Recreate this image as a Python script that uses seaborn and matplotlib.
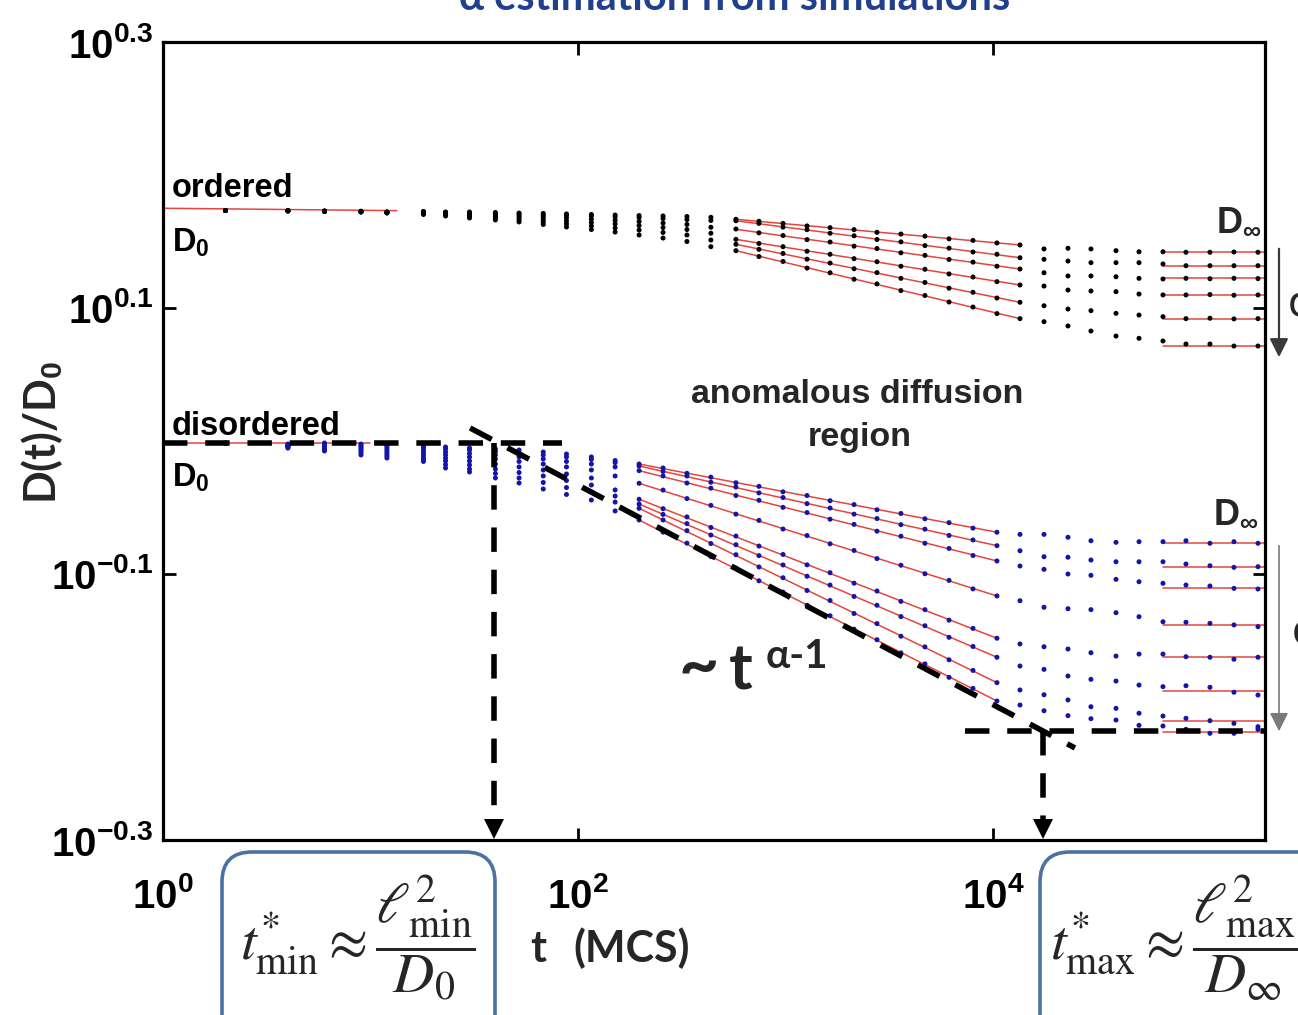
import matplotlib
matplotlib.use("Agg")
import matplotlib.pyplot as plt
import numpy as np
import pandas as pd
import seaborn as sns
from matplotlib.patches import FancyBboxPatch, FancyArrowPatch
from matplotlib.ticker import NullLocator

# ---------------------------------------------------------------------------
# data: time grid (MCS) and log10(D(t)/D0) per curve
# ---------------------------------------------------------------------------
t_mcs = [2, 4, 6, 9, 12, 18, 23, 30, 40, 52, 68, 88, 116, 151, 197, 257, 335,
         437, 577, 745, 973, 1270, 1640, 2140, 2760, 3600, 4700, 6140, 8010,
         10450, 13490, 17620, 22980, 29660, 39170, 50560, 65960, 85140,
         111100, 145000, 189300]

ordered_1 = [0.1733, 0.1732, 0.1729, 0.1727, 0.1722,
             0.1726, 0.1722, 0.1722, 0.1718, 0.1714, 0.1711, 0.1707, 0.1703,
             0.1699, 0.1695, 0.1692, 0.1688, 0.1682,
             0.1667, 0.1652, 0.1636, 0.1617, 0.1604, 0.1589, 0.1569, 0.1556,
             0.1540, 0.1520, 0.1508, 0.1489, 0.1474,
             0.1444, 0.1449, 0.1444, 0.1431, 0.1423,
             0.1423, 0.1419, 0.1419, 0.1421, 0.1419]
ordered_2 = [0.1733, 0.1732, 0.1729, 0.1727, 0.1722,
             0.1722, 0.1718, 0.1714, 0.1711, 0.1707, 0.1699, 0.1695, 0.1692,
             0.1684, 0.1680, 0.1673, 0.1665, 0.1658,
             0.1656, 0.1636, 0.1608, 0.1589, 0.1562, 0.1543, 0.1515, 0.1497,
             0.1469, 0.1450, 0.1421, 0.1404, 0.1378,
             0.1366, 0.1353, 0.1341, 0.1341, 0.1341,
             0.1331, 0.1318, 0.1318, 0.1318, 0.1318]
ordered_3 = [0.1733, 0.1731, 0.1728, 0.1726, 0.1720,
             0.1718, 0.1714, 0.1707, 0.1699, 0.1692, 0.1684, 0.1677, 0.1669,
             0.1658, 0.1650, 0.1639, 0.1628, 0.1607,
             0.1594, 0.1565, 0.1545, 0.1514, 0.1496, 0.1465, 0.1447, 0.1415,
             0.1396, 0.1365, 0.1345, 0.1314, 0.1293,
             0.1265, 0.1241, 0.1241, 0.1235, 0.1223,
             0.1218, 0.1223, 0.1220, 0.1223, 0.1221]
ordered_4 = [0.1733, 0.1731, 0.1727, 0.1725, 0.1718,
             0.1714, 0.1707, 0.1699, 0.1688, 0.1677, 0.1665, 0.1654, 0.1643,
             0.1632, 0.1620, 0.1605, 0.1590, 0.1562,
             0.1516, 0.1485, 0.1461, 0.1427, 0.1404, 0.1371, 0.1348, 0.1314,
             0.1291, 0.1256, 0.1233, 0.1198, 0.1173,
             0.1165, 0.1135, 0.1128, 0.1123, 0.1105,
             0.1098, 0.1098, 0.1101, 0.1096, 0.1098]
ordered_5 = [0.1733, 0.1730, 0.1726, 0.1723, 0.1716,
             0.1711, 0.1699, 0.1688, 0.1677, 0.1662, 0.1647, 0.1632, 0.1617,
             0.1602, 0.1586, 0.1568, 0.1549, 0.1511,
             0.1479, 0.1441, 0.1410, 0.1367, 0.1338, 0.1295, 0.1266, 0.1223,
             0.1192, 0.1149, 0.1118, 0.1075, 0.1043,
             0.1017, 0.0992, 0.0980, 0.0960, 0.0947,
             0.0935, 0.0920, 0.0923, 0.0918, 0.0920]
ordered_6 = [0.1733, 0.1729, 0.1725, 0.1721, 0.1714,
             0.1703, 0.1692, 0.1677, 0.1662, 0.1647, 0.1628, 0.1609, 0.1590,
             0.1571, 0.1549, 0.1526, 0.1500, 0.1461,
             0.1431, 0.1387, 0.1350, 0.1300, 0.1265, 0.1216, 0.1181, 0.1131,
             0.1094, 0.1045, 0.1007, 0.0958, 0.0920,
             0.0897, 0.0865, 0.0827, 0.0789, 0.0772,
             0.0752, 0.0729, 0.0729, 0.0714, 0.0714]

disordered_1 = [-0.0017, -0.0023, -0.0015, -0.0023, -0.0030, -0.0038, -0.0045,
                -0.0053, -0.0060, -0.0068, -0.0083, -0.0098, -0.0120, -0.0147,
                -0.0173, -0.0203, -0.0243, -0.0272, -0.0314, -0.0341, -0.0382,
                -0.0410, -0.0449, -0.0478, -0.0517, -0.0545, -0.0585, -0.0614,
                -0.0655, -0.0686,
                -0.0702, -0.0702, -0.0724, -0.0750, -0.0762, -0.0757, -0.0757,
                -0.0750, -0.0769, -0.0757, -0.0769]
disordered_2 = [-0.0017, -0.0026, -0.0023, -0.0030, -0.0038, -0.0049, -0.0060,
                -0.0068, -0.0079, -0.0090, -0.0105, -0.0120, -0.0139, -0.0162,
                -0.0188, -0.0229, -0.0263, -0.0310, -0.0346, -0.0390, -0.0425,
                -0.0471, -0.0504, -0.0550, -0.0583, -0.0629, -0.0663, -0.0710,
                -0.0744, -0.0787,
                -0.0825, -0.0870, -0.0874, -0.0895, -0.0908, -0.0908, -0.0908,
                -0.0925, -0.0938, -0.0950, -0.0945]
disordered_3 = [-0.0017, -0.0030, -0.0030, -0.0041, -0.0053, -0.0068, -0.0083,
                -0.0094, -0.0105, -0.0120, -0.0135, -0.0154, -0.0173, -0.0195,
                -0.0223, -0.0263, -0.0316, -0.0355, -0.0410, -0.0446, -0.0499,
                -0.0538, -0.0588, -0.0627, -0.0678, -0.0716, -0.0769, -0.0808,
                -0.0861, -0.0902,
                -0.0940, -0.0965, -0.1000, -0.1010, -0.1040, -0.1058, -0.1070,
                -0.1083, -0.1090, -0.1108, -0.1113]
disordered_4 = [-0.0017, -0.0034, -0.0038, -0.0053, -0.0068, -0.0086, -0.0105,
                -0.0120, -0.0135, -0.0154, -0.0173, -0.0195, -0.0218, -0.0263,
                -0.0318, -0.0369, -0.0433, -0.0484, -0.0550, -0.0597, -0.0662,
                -0.0711, -0.0773, -0.0823, -0.0884, -0.0934, -0.0998, -0.1048,
                -0.1112, -0.1165,
                -0.1201, -0.1250, -0.1261, -0.1268, -0.1291, -0.1321, -0.1359,
                -0.1363, -0.1371, -0.1383, -0.1396]
disordered_5 = [-0.0017, -0.0038, -0.0045, -0.0064, -0.0083, -0.0105, -0.0128,
                -0.0150, -0.0173, -0.0195, -0.0218, -0.0248, -0.0278, -0.0368,
                -0.0438, -0.0509, -0.0571, -0.0650, -0.0715, -0.0790, -0.0853,
                -0.0931, -0.0990, -0.1069, -0.1128, -0.1206, -0.1268, -0.1347,
                -0.1409, -0.1483,
                -0.1526, -0.1547, -0.1564, -0.1592, -0.1617, -0.1602, -0.1602,
                -0.1622, -0.1626, -0.1641, -0.1626]
disordered_6 = [-0.0017, -0.0041, -0.0053, -0.0075, -0.0098, -0.0124, -0.0150,
                -0.0180, -0.0211, -0.0237, -0.0263, -0.0297, -0.0331, -0.0414,
                -0.0474, -0.0552, -0.0621, -0.0707, -0.0780, -0.0862, -0.0932,
                -0.1017, -0.1083, -0.1169, -0.1235, -0.1320, -0.1389, -0.1476,
                -0.1545, -0.1626,
                -0.1692, -0.1717, -0.1767, -0.1792, -0.1805, -0.1835, -0.1847,
                -0.1840, -0.1852, -0.1889, -0.1910]
disordered_7 = [-0.0017, -0.0045, -0.0064, -0.0090, -0.0113, -0.0139, -0.0177,
                -0.0211, -0.0244, -0.0278, -0.0312, -0.0350, -0.0383, -0.0459,
                -0.0506, -0.0594, -0.0674, -0.0771, -0.0855, -0.0947, -0.1028,
                -0.1124, -0.1199, -0.1297, -0.1373, -0.1468, -0.1548, -0.1645,
                -0.1725, -0.1817,
                -0.1872, -0.1908, -0.1947, -0.1998, -0.2010, -0.2047, -0.2068,
                -0.2085, -0.2103, -0.2123, -0.2148]
disordered_8 = [-0.0017, -0.0053, -0.0075, -0.0105, -0.0128, -0.0154, -0.0203,
                -0.0233, -0.0278, -0.0316, -0.0361, -0.0402, -0.0444, -0.0526,
                -0.0594, -0.0685, -0.0768, -0.0869, -0.0956, -0.1051, -0.1136,
                -0.1235, -0.1314, -0.1415, -0.1494, -0.1593, -0.1676, -0.1777,
                -0.1860, -0.1955,
                -0.1985, -0.2028, -0.2065, -0.2088, -0.2098, -0.2138, -0.2143,
                -0.2168, -0.2198, -0.2198, -0.2168]

# power-law fits (red) and plateaus, log10 values at the two ends
ordered_fit_t = [577, 13490]
ordered_fit_start = [0.1667, 0.1656, 0.1592, 0.1516, 0.1479, 0.1431]
ordered_fit_end = [0.1474, 0.1378, 0.1293, 0.1173, 0.1043, 0.0920]
ordered_dinf = [0.1419, 0.1318, 0.1223, 0.1098, 0.0920, 0.0714]
ordered_d0_t = [1, 13.4]
ordered_d0 = [0.1750, 0.1732]

disordered_fit_t = [197, 10450]
disordered_fit_start = [-0.0173, -0.0188, -0.0223, -0.0318, -0.0438, -0.0474,
                        -0.0506, -0.0594]
disordered_fit_end = [-0.0686, -0.0787, -0.0902, -0.1165, -0.1483, -0.1626,
                      -0.1817, -0.1955]
disordered_dinf = [-0.0769, -0.0945, -0.1108, -0.1383, -0.1626, -0.1877,
                   -0.2103, -0.2190]
disordered_d0_t = [1, 10]
disordered_d0 = [-0.0015, -0.0015]

plateau_t = [65960, 2.05e5]

# dashed guides
guide_d0_t = [1, 84]
guide_d0_level = -0.0015
guide_slope_t = [30.2, 24840]
guide_slope_log = [0.0098, -0.2308]
guide_dinf_t = [7330, 2.05e5]
guide_dinf_level = -0.2180
t_min_star = 39.4
t_max_star = 17420

# ---------------------------------------------------------------------------
W_PX, H_PX = 1298, 1015
BLUE_DOT = "#1414a8"
FIT_RED = "#e5453e"
BOX_BLUE = "#4a73a3"
TITLE_BLUE = "#203f8c"
DASH = dict(color="black", lw=4.0, dashes=(4.4, 3.2), zorder=5,
            solid_capstyle="butt", dash_capstyle="butt")

sns.set_theme(
    style="ticks",
    rc={
        "axes.edgecolor": "black",
        "axes.linewidth": 2.3,
        "axes.facecolor": "white",
        "figure.facecolor": "white",
        "xtick.color": "black",
        "ytick.color": "black",
    },
)
plt.rcParams["font.family"] = ["Liberation Sans", "DejaVu Sans"]
plt.rcParams["mathtext.fontset"] = "custom"
plt.rcParams["mathtext.rm"] = "Liberation Sans"
plt.rcParams["mathtext.bf"] = "Liberation Sans:bold"
plt.rcParams["mathtext.it"] = "Liberation Sans:italic"

CALIBRI_LIKE = ["Lato", "DejaVu Sans"]


def fxy(x, y):
    """pixel position in the 1298x1015 picture -> figure fraction"""
    return x / W_PX, 1 - y / H_PX


fig = plt.figure(figsize=(W_PX / 100, H_PX / 100), dpi=100)
ax = fig.add_axes([163 / W_PX, 1 - 840 / H_PX, 1102 / W_PX, 798 / H_PX])
ax.set_xscale("log")
ax.set_yscale("log")

ordered_curves = [ordered_1, ordered_2, ordered_3, ordered_4, ordered_5, ordered_6]
disordered_curves = [disordered_1, disordered_2, disordered_3, disordered_4,
                     disordered_5, disordered_6, disordered_7, disordered_8]

rows = []
for phase, curves in (("ordered", ordered_curves), ("disordered", disordered_curves)):
    for k, logs in enumerate(curves):
        for t, lg in zip(t_mcs, logs):
            rows.append({"t": t, "D": 10 ** lg, "phase": phase, "curve": k})
df = pd.DataFrame(rows)

# red fit lines below the dots
for s, e in zip(ordered_fit_start, ordered_fit_end):
    ax.plot(ordered_fit_t, [10 ** s, 10 ** e], color=FIT_RED, lw=1.1, zorder=2)
for s, e in zip(disordered_fit_start, disordered_fit_end):
    ax.plot(disordered_fit_t, [10 ** s, 10 ** e], color=FIT_RED, lw=1.1, zorder=2)
for v in ordered_dinf + disordered_dinf:
    ax.plot(plateau_t, [10 ** v, 10 ** v], color=FIT_RED, lw=1.1, zorder=2)
ax.plot(ordered_d0_t, 10 ** np.array(ordered_d0), color=FIT_RED, lw=1.1, zorder=2)
ax.plot(disordered_d0_t, 10 ** np.array(disordered_d0), color=FIT_RED, lw=1.1, zorder=2)

sns.scatterplot(
    data=df, x="t", y="D", hue="phase",
    palette={"ordered": "black", "disordered": BLUE_DOT},
    s=13, linewidth=0, legend=False, ax=ax, zorder=3,
)

# dashed guides
ax.plot(guide_d0_t, [10 ** guide_d0_level] * 2, clip_on=False, **DASH)
ax.plot(guide_slope_t, 10 ** np.array(guide_slope_log), clip_on=False, **DASH)
ax.plot(guide_dinf_t, [10 ** guide_dinf_level] * 2, clip_on=False, **DASH)
ax.plot([t_min_star] * 2, [10 ** guide_d0_level, 10 ** -0.2840], **DASH)
ax.plot([t_max_star] * 2, [10 ** guide_dinf_level, 10 ** -0.2840], **DASH)
for tx in (t_min_star, t_max_star):
    ax.plot(tx, 10 ** -0.2915, marker="v", ms=14, color="black", mew=0,
            zorder=6, clip_on=False)

ax.set_xlim(1, 10 ** 5.311)
ax.set_ylim(10 ** -0.3, 10 ** 0.3)
ax.set_xticks([1, 1e2, 1e4],
              [r"$\mathbf{10^{0}}$", r"$\mathbf{10^{2}}$", r"$\mathbf{10^{4}}$"])
ax.set_yticks([10 ** -0.3, 10 ** -0.1, 10 ** 0.1, 10 ** 0.3],
              [r"$\mathbf{10^{-0.3}}$", r"$\mathbf{10^{-0.1}}$",
               r"$\mathbf{10^{0.1}}$", r"$\mathbf{10^{0.3}}$"])
ax.xaxis.set_minor_locator(NullLocator())
ax.yaxis.set_minor_locator(NullLocator())
ax.tick_params(direction="in", length=9, width=2, top=True, right=True,
               labelsize=29)
ax.tick_params(axis="x", pad=27)
ax.tick_params(axis="y", pad=7)
ax.set_xlabel("")
ax.set_ylabel("")
for sp in ax.spines.values():
    sp.set_linewidth(2.3)
    sp.set_color("black")

# in-plot labels (Helvetica-like bold)
lab = dict(fontsize=23.5, fontweight="bold", color="black")
fig.text(*fxy(172, 197), "ordered", ha="left", va="baseline", **lab)
fig.text(*fxy(172, 252), r"$\mathbf{D_{0}}$", ha="left", va="baseline", **lab)
fig.text(*fxy(172, 435), "disordered", ha="left", va="baseline", **lab)
fig.text(*fxy(172, 487), r"$\mathbf{D_{0}}$", ha="left", va="baseline", **lab)
fig.text(*fxy(857, 403), "anomalous diffusion", ha="center", va="baseline",
         fontsize=24.5, fontweight="bold")
fig.text(*fxy(860, 446), "region", ha="center", va="baseline",
         fontsize=24.5, fontweight="bold")
fig.text(*fxy(1216, 231), r"$\mathbf{D_{\infty}}$", ha="left", va="baseline",
         fontsize=26, fontweight="bold")
fig.text(*fxy(1213, 523), r"$\mathbf{D_{\infty}}$", ha="left", va="baseline",
         fontsize=26, fontweight="bold")
fig.text(*fxy(1288, 304), "φ", ha="left", va="center", fontsize=30,
         family="DejaVu Sans")
fig.text(*fxy(1292, 632), "φ", ha="left", va="center", fontsize=30,
         family="DejaVu Sans")

# phi arrows on the right
fig.add_artist(FancyArrowPatch(
    fxy(1279, 246), fxy(1279, 360), transform=fig.transFigure,
    arrowstyle="-|>", mutation_scale=28, color="#3a3a3a", lw=1.6))
fig.add_artist(FancyArrowPatch(
    fxy(1279, 543), fxy(1279, 734), transform=fig.transFigure,
    arrowstyle="-|>", mutation_scale=28, color="#7a7a7a", lw=1.2))

# slope label
fig.text(*fxy(678, 688), "~", ha="left", va="baseline", fontsize=50,
         fontweight="bold", family=CALIBRI_LIKE)
fig.text(*fxy(729, 690), "t", ha="left", va="baseline", fontsize=46,
         fontweight="bold", family=CALIBRI_LIKE)
fig.text(*fxy(766, 668), "α-1", ha="left", va="baseline", fontsize=29,
         fontweight="bold", family=CALIBRI_LIKE)

# axis titles
fig.text(*fxy(42, 432), r"D(t)/D$_{\mathbf{0}}$", rotation=90, ha="center",
         va="center", fontsize=31, fontweight="bold", family=CALIBRI_LIKE)
fig.text(*fxy(530, 962), "t", ha="left", va="baseline", fontsize=31,
         fontweight="bold", family=CALIBRI_LIKE)
fig.text(*fxy(573, 962), "(MCS)", ha="left", va="baseline", fontsize=31,
         fontweight="bold", family=CALIBRI_LIKE)

# title, cut by the top edge
fig.text(*fxy(735, 10), "α estimation from simulations", ha="center",
         va="baseline", fontsize=30, fontweight="bold", color=TITLE_BLUE,
         family=CALIBRI_LIKE)

# formula boxes
for x0, w in ((2.22, 2.73), (10.40, 3.2)):
    fig.add_artist(FancyBboxPatch(
        (x0, -0.5), w, 2.13, boxstyle="round,pad=0,rounding_size=0.3",
        transform=fig.dpi_scale_trans, fc="none", ec=BOX_BLUE, lw=2.6))
fig.text(*fxy(240, 938), r"$t^{*}_{\min} \approx \dfrac{\ell^{2}_{\min}}{D_{0}}$",
         ha="left", va="center", fontsize=41, math_fontfamily="stix")
fig.text(*fxy(1050, 938), r"$t^{*}_{\max} \approx \dfrac{\ell^{2}_{\max}}{D_{\infty}}$",
         ha="left", va="center", fontsize=41, math_fontfamily="stix")

fig.savefig("out.png", dpi=100, facecolor="white")
